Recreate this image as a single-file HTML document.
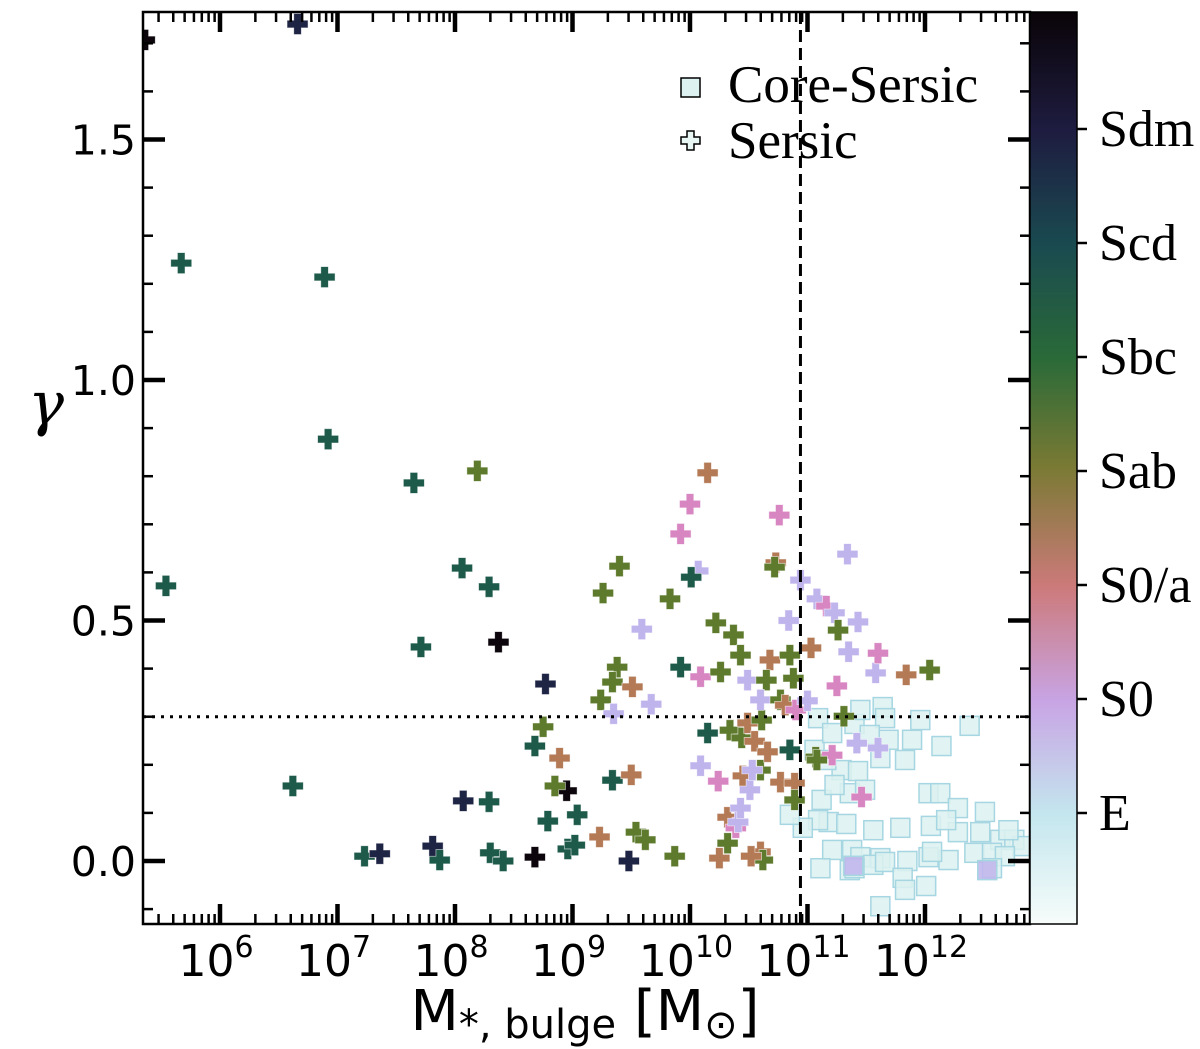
<!DOCTYPE html>
<html><head><meta charset="utf-8"><style>body{margin:0;background:#fff}svg{display:block}</style></head>
<body>
<svg id="chart" width="1200" height="1049" xmlns="http://www.w3.org/2000/svg">
<defs>
<linearGradient id="cb" x1="0" y1="0" x2="0" y2="1">
<stop offset="0" stop-color="#0a0408"/><stop offset="0.13" stop-color="#1e1c40"/><stop offset="0.255" stop-color="#1a4a50"/><stop offset="0.38" stop-color="#2a6a38"/><stop offset="0.5" stop-color="#7a7a34"/><stop offset="0.63" stop-color="#cc7a7a"/><stop offset="0.755" stop-color="#c8a4e4"/><stop offset="0.88" stop-color="#c4e6ee"/><stop offset="1" stop-color="#f6fcfa"/>
</linearGradient>
<clipPath id="pc"><rect x="143" y="12" width="887" height="912"/></clipPath>
</defs>
<g id="marks" clip-path="url(#pc)"></g>
<g id="axes"></g>
<g>
<rect x="681" y="78" width="19" height="19" fill="#dcf1f0" stroke="#000" stroke-width="1.5"/>
<path d="M687,131h7v6h6v7h-6v6h-7v-6h-6v-7h6z" fill="#e8f6f4" stroke="#000" stroke-width="1.5"/>
<text x="728" y="102" font-family="Liberation Serif, serif" font-size="53">Core-Sersic</text>
<text x="728" y="158" font-family="Liberation Serif, serif" font-size="53">Sersic</text>
</g>
<text x="585" y="1030" text-anchor="middle" font-family="DejaVu Sans, sans-serif" font-size="56">M<tspan font-size="40" dy="8">*, bulge</tspan><tspan dy="-8"> [M</tspan><tspan font-size="40" dy="8">⊙</tspan><tspan dy="-8">]</tspan></text>
<text x="46" y="424" text-anchor="middle" font-family="DejaVu Serif, serif" font-style="italic" font-size="60">γ</text>
</svg>
<script>
const plusLogM=[5.36,6.66,5.67,6.89,6.92,5.54,7.65,8.19,8.06,8.29,7.71,8.37,8.77,6.62,8.07,8.29,7.23,7.36,7.81,7.87,8.30,8.41,8.68,8.75,8.68,8.89,8.95,8.96,8.79,8.85,9.04,9.02,9.40,9.26,9.38,9.34,9.24,9.35,9.34,9.51,9.59,9.67,9.23,9.50,9.48,9.54,9.62,9.87,9.92,9.83,10.07,10.01,10.0,9.92,10.15,10.22,10.09,10.26,10.37,10.43,10.49,10.15,10.34,10.44,10.09,10.24,10.32,10.32,10.25,10.39,10.41,10.49,10.55,10.61,10.45,10.60,10.66,10.51,10.53,10.43,10.60,10.62,10.52,10.76,10.73,10.72,10.68,10.85,10.65,10.60,10.77,10.81,10.88,10.90,10.77,10.85,10.89,10.89,11.00,11.03,11.07,11.08,10.94,11.16,11.23,11.26,11.35,11.25,11.31,11.42,11.46,11.58,11.60,11.34,11.43,11.60,11.84,12.04,11.21,11.08,10.84];
const plusGamma=[1.707,1.74,1.243,1.214,0.877,0.572,0.786,0.811,0.609,0.57,0.445,0.455,0.368,0.156,0.125,0.123,0.01,0.015,0.031,0.002,0.017,0.0,0.008,0.279,0.239,0.214,0.146,0.025,0.083,0.156,0.096,0.033,0.613,0.557,0.403,0.372,0.335,0.306,0.168,0.362,0.482,0.326,0.05,0.179,0.0,0.06,0.044,0.01,0.403,0.545,0.603,0.59,0.742,0.68,0.807,0.495,0.383,0.393,0.47,0.428,0.376,0.266,0.272,0.256,0.198,0.166,0.091,0.037,0.006,0.069,0.081,0.287,0.249,0.293,0.177,0.189,0.227,0.148,0.189,0.11,0.019,0.002,0.01,0.719,0.62,0.611,0.418,0.428,0.376,0.335,0.335,0.324,0.38,0.314,0.164,0.231,0.162,0.127,0.333,0.443,0.216,0.545,0.584,0.53,0.516,0.48,0.435,0.364,0.301,0.245,0.133,0.391,0.432,0.638,0.497,0.235,0.387,0.397,0.22,0.21,0.5];
const plusType=[7,6,5,5,5,5,5,4,5,5,5,7,6,5,6,5,5,6,6,5,5,5,7,4,5,3,7,5,5,4,5,5,4,4,4,4,4,1,5,3,1,1,3,3,6,4,4,4,5,4,1,5,2,2,3,4,2,4,4,4,1,5,4,4,1,2,3,4,3,2,1,3,3,4,3,4,3,1,1,1,3,4,3,2,3,4,3,4,4,1,4,3,4,2,3,5,3,4,1,3,4,1,1,2,1,4,1,2,4,1,2,1,2,1,1,1,3,4,2,4,1];
const sqLogM=[11.09,11.40,11.64,11.66,11.96,12.14,12.38,11.06,11.29,11.43,11.62,11.83,11.36,11.49,11.18,11.33,11.56,11.79,12.03,12.13,12.05,12.28,12.47,12.64,12.76,12.83,11.21,11.38,11.45,11.62,11.85,12.03,12.20,12.42,12.57,12.51,12.71,11.09,10.96,10.85,11.11,11.36,11.56,11.66,11.81,12.01,11.83,11.62,11.40,11.12,11.23,11.69,11.89,11.53,11.45,11.21,11.16,12.28,12.18,12.06,12.68,12.57,11.39,12.53];
const sqGamma=[0.297,0.285,0.32,0.297,0.293,0.239,0.281,0.231,0.189,0.187,0.214,0.21,0.141,0.148,0.081,0.077,0.064,0.069,0.141,0.141,0.073,0.06,0.06,0.044,0.044,0.031,0.023,0.023,0.008,0.006,0.0,0.008,0.002,0.017,0.017,0.102,0.064,0.085,0.069,0.096,-0.015,-0.019,-0.008,-0.002,-0.035,-0.052,-0.06,-0.094,-0.015,0.127,0.158,0.252,0.252,0.262,0.314,0.266,0.21,0.11,0.085,0.019,0.01,-0.015,-0.01,-0.019];
const sqType=[0,0,0,0,0,0,0,0,0,0,0,0,0,0,0,0,0,0,0,0,0,0,0,0,0,0,0,0,0,0,0,0,0,0,0,0,0,0,0,0,0,0,0,0,0,0,0,0,0,0,0,0,0,0,0,0,0,0,0,0,0,0,1,1];
const xTickExp=[6,7,8,9,10,11,12];
const yTicks=[0.0,0.5,1.0,1.5];
const yTickLabels=["0.0","0.5","1.0","1.5"];
const cbLabels=["E","S0","S0/a","Sab","Sbc","Scd","Sdm"];
const typeColors=["#d6eeee","#c0b4ec","#d886c2","#b47a56","#5e7a2c","#1d5a4a","#1e2444","#0c060c"];
const vLineLogM=10.94, hLineGamma=0.3;

const X0=143,X1=1030,Y0=12,Y1=924;
const xs=v=>220+(v-6)*117.5;
const ys=g=>861-g*481;
const NS="http://www.w3.org/2000/svg";
function mk(tag,attrs,parent){const e=document.createElementNS(NS,tag);for(const k in attrs)e.setAttribute(k,attrs[k]);parent.appendChild(e);return e;}
const marks=document.getElementById('marks'), axes=document.getElementById('axes');
for(let i=0;i<sqLogM.length;i++){
  const cx=xs(sqLogM[i]),cy=ys(sqGamma[i]);
  const r=mk('rect',{x:cx-9.5,y:cy-9.5,width:19,height:19,fill:sqType[i]?typeColors[1]:'#dcf1f0','fill-opacity':0.85,stroke:'#a6d6e2','stroke-width':1.5},marks);
  
  
}
for(let i=0;i<plusLogM.length;i++){
  const cx=xs(plusLogM[i]),cy=ys(plusGamma[i]),a=3.8,b=10.5;
  const d=`M${cx-a},${cy-b}h${2*a}v${b-a}h${b-a}v${2*a}h${a-b}v${b-a}h${-2*a}v${a-b}h${a-b}v${-2*a}h${b-a}z`;
  const p=mk('path',{d:d,fill:typeColors[plusType[i]],stroke:'#ffffff','stroke-width':0.8,'stroke-opacity':0.6},marks);
  
  
}
const vl=mk('line',{x1:xs(vLineLogM),x2:xs(vLineLogM),y1:Y0,y2:Y1,stroke:'#000','stroke-width':3,'stroke-dasharray':'12,6'},marks);


const hl=mk('line',{x1:X0,x2:X1,y1:ys(hLineGamma),y2:ys(hLineGamma),stroke:'#000','stroke-width':3,'stroke-dasharray':'3,6'},marks);


const fr=mk('rect',{x:X0,y:Y0,width:X1-X0,height:Y1-Y0,fill:'none',stroke:'#000','stroke-width':2.5},axes);


for(let e=5;e<=12;e++){
  for(let m=1;m<10;m++){
    const v=e+Math.log10(m); const x=xs(v); if(x<X0||x>X1)continue;
    const L=m===1?20:10, w=m===1?4.5:2.5;
    mk('line',{x1:x,x2:x,y1:Y1,y2:Y1-L,stroke:'#000','stroke-width':w},axes);
    mk('line',{x1:x,x2:x,y1:Y0,y2:Y0+L,stroke:'#000','stroke-width':w},axes);
  }
}
xTickExp.forEach(e=>{
  const t=mk('text',{x:xs(e)-4,y:976,'font-family':'DejaVu Sans, sans-serif','font-size':44,'text-anchor':'middle'},axes);
  
  
  t.innerHTML=`10<tspan dy="-19" font-size="30">${e}</tspan>`;
});
for(let k=-1;k<=17;k++){
  const g=k/10,y=ys(g); if(y<Y0||y>Y1)continue;
  const major=k%5===0, L=major?22:10, w=major?4.5:2.5;
  mk('line',{x1:X0,x2:X0+L,y1:y,y2:y,stroke:'#000','stroke-width':w},axes);
  mk('line',{x1:X1,x2:X1-L,y1:y,y2:y,stroke:'#000','stroke-width':w},axes);
}
yTicks.forEach((g,i)=>{
  const t=mk('text',{x:136,y:ys(g)+15,'font-family':'DejaVu Sans, sans-serif','font-size':41,'text-anchor':'end'},axes);
  
  
  t.textContent=yTickLabels[i];
});
const cbr=mk('rect',{x:1030,y:12,width:47,height:912,fill:'url(#cb)',stroke:'#000','stroke-width':1.5},axes);


cbLabels.forEach((l,i)=>{
  const y=813-i*114;
  mk('line',{x1:1077,x2:1087,y1:y,y2:y,stroke:'#000','stroke-width':2.5},axes);
  const t=mk('text',{x:1099,y:y+17,'font-family':'Liberation Serif, serif','font-size':52},axes);
  
  
  t.textContent=l;
});
</script>
</body></html>
